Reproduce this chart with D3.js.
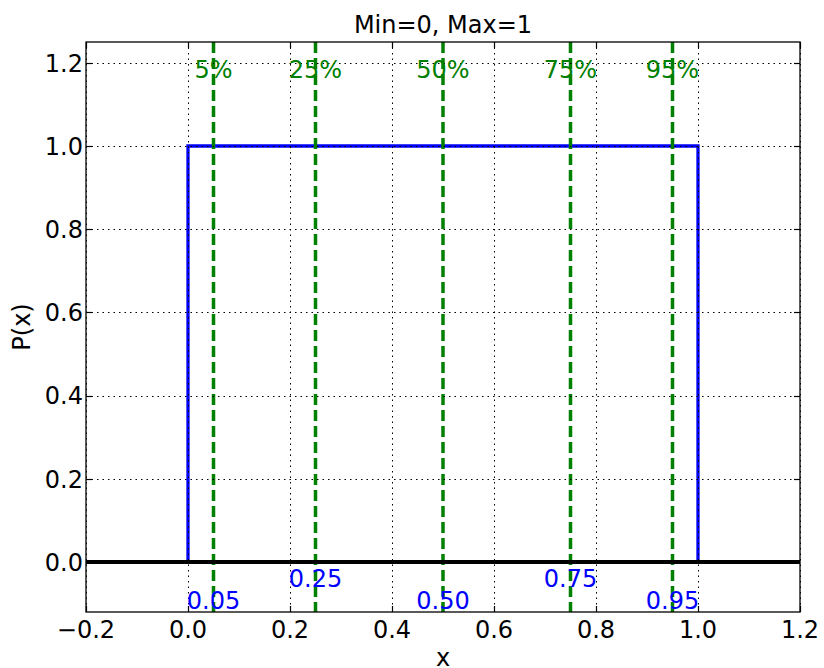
<!DOCTYPE html>
<html>
<head>
<meta charset="utf-8">
<script src="https://cdn.jsdelivr.net/npm/d3@7"></script>
<style>
  html, body { margin: 0; padding: 0; background: #fff; }
  svg { display: block; font-family: "DejaVu Sans", sans-serif; }
</style>
</head>
<body>
<svg id="chart" width="824" height="668"></svg>
<script>
// ---- data ----
const pdfX = [-0.2, 0, 0, 1, 1, 1.2];
const pdfY = [0, 0, 1, 1, 0, 0];
const percentiles = [0.05, 0.25, 0.5, 0.75, 0.95];
const percentLabels = ["5%", "25%", "50%", "75%", "95%"];
const valueLabels = ["0.05", "0.25", "0.50", "0.75", "0.95"];
const valueLabelY = [-0.1, -0.05, -0.1, -0.05, -0.1];
const xTicks = [-0.2, 0.0, 0.2, 0.4, 0.6, 0.8, 1.0, 1.2];
const yTicks = [0.0, 0.2, 0.4, 0.6, 0.8, 1.0, 1.2];
const xDomain = [-0.2, 1.2];
const yDomain = [-0.12, 1.25];
const title = "Min=0, Max=1";
const xLabel = "x";
const yLabel = "P(x)";

// ---- layout ----
const L = 86, R = 800, T = 42, B = 612;
const svg = d3.select("#chart");
const x = d3.scaleLinear().domain(xDomain).range([L, R]);
const y = d3.scaleLinear().domain(yDomain).range([B, T]);
const fmt = d3.format(".1f");

const plot = svg.append("g");
plot.append("defs").append("clipPath").attr("id", "clip")
  .append("rect").attr("x", L).attr("y", T).attr("width", R - L).attr("height", B - T);
const clipped = plot.append("g").attr("clip-path", "url(#clip)");

// pdf line
const line = d3.line().x((d, i) => x(pdfX[i])).y((d, i) => y(pdfY[i]));
clipped.append("path").datum(pdfX).attr("d", line)
  .attr("fill", "none").attr("stroke", "#0000ff").attr("stroke-width", 3.3)
  .attr("stroke-linejoin", "miter");

// percentile lines
clipped.selectAll("line.pct").data(percentiles).join("line")
  .attr("class", "pct")
  .attr("x1", d => x(d)).attr("x2", d => x(d))
  .attr("y1", T).attr("y2", B)
  .attr("stroke", "#008000").attr("stroke-width", 3.5)
  .attr("stroke-dasharray", "11,5");

// zero line
clipped.append("line")
  .attr("x1", L).attr("x2", R).attr("y1", y(0)).attr("y2", y(0))
  .attr("stroke", "#000").attr("stroke-width", 4);

// grid (drawn above lines, classic style)
const grid = plot.append("g").attr("stroke", "#000").attr("stroke-width", 1)
  .attr("stroke-dasharray", "1.5,4");
grid.selectAll("line.gx").data(xTicks).join("line")
  .attr("x1", d => Math.round(x(d)) + 0.5).attr("x2", d => Math.round(x(d)) + 0.5)
  .attr("y1", T).attr("y2", B);
grid.selectAll("line.gy").data(yTicks).join("line")
  .attr("y1", d => Math.round(y(d)) + 0.5).attr("y2", d => Math.round(y(d)) + 0.5)
  .attr("x1", L).attr("x2", R);

// axes with inward ticks
const tick = 6;
const ax = plot.append("g").attr("stroke", "#000").attr("stroke-width", 1.2);
xTicks.forEach(v => {
  const px = Math.round(x(v)) + 0.5;
  ax.append("line").attr("x1", px).attr("x2", px).attr("y1", B).attr("y2", B - tick);
  ax.append("line").attr("x1", px).attr("x2", px).attr("y1", T).attr("y2", T + tick);
});
yTicks.forEach(v => {
  const py = Math.round(y(v)) + 0.5;
  ax.append("line").attr("x1", L).attr("x2", L + tick).attr("y1", py).attr("y2", py);
  ax.append("line").attr("x1", R).attr("x2", R - tick).attr("y1", py).attr("y2", py);
});
plot.append("rect").attr("x", L).attr("y", T).attr("width", R - L).attr("height", B - T)
  .attr("fill", "none").attr("stroke", "#000").attr("stroke-width", 1.3);

// tick labels
const tl = svg.append("g").attr("font-size", 24).attr("fill", "#000");
tl.selectAll("text.xt").data(xTicks).join("text")
  .attr("x", d => x(d)).attr("y", B + 26).attr("text-anchor", "middle")
  .text(d => fmt(d));
tl.selectAll("text.yt").data(yTicks).join("text")
  .attr("x", L - 3).attr("y", d => y(d) + 8.7).attr("text-anchor", "end")
  .text(d => fmt(d));

// percent labels
svg.append("g").attr("font-size", 24).attr("fill", "#008000")
  .selectAll("text").data(percentiles).join("text")
  .attr("x", d => x(d)).attr("y", y(1.2) + 15).attr("text-anchor", "middle")
  .text((d, i) => percentLabels[i]);

// value labels
svg.append("g").attr("font-size", 24).attr("fill", "#0000ff")
  .selectAll("text").data(percentiles).join("text")
  .attr("x", d => x(d)).attr("y", (d, i) => y(valueLabelY[i]) + (valueLabelY[i] < -0.07 ? 5 : 4))
  .attr("text-anchor", "middle")
  .text((d, i) => valueLabels[i]);

// title and axis labels
svg.append("text").attr("x", (L + R) / 2).attr("y", 33).attr("text-anchor", "middle")
  .attr("font-size", 24).text(title);
svg.append("text").attr("x", (L + R) / 2).attr("y", 666).attr("text-anchor", "middle")
  .attr("font-size", 24).text(xLabel);
svg.append("text").attr("transform", `translate(30,${(T + B) / 2}) rotate(-90)`)
  .attr("text-anchor", "middle").attr("font-size", 24).text(yLabel);
</script>
</body>
</html>
